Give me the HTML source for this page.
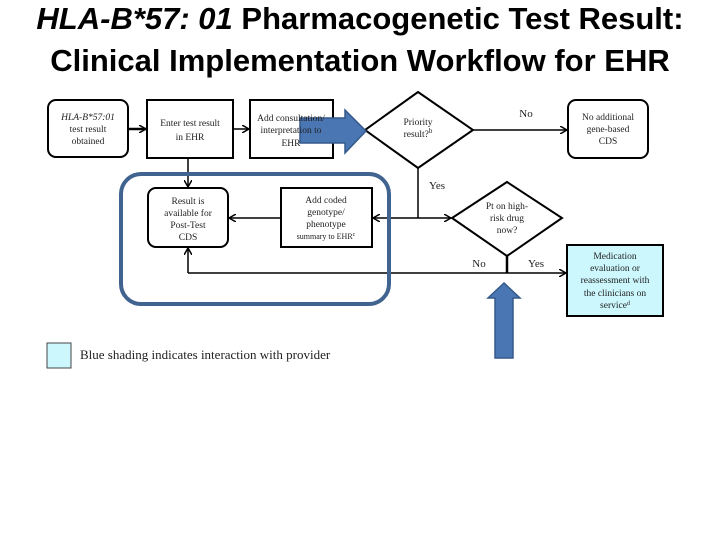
<!DOCTYPE html>
<html><head><meta charset="utf-8"><style>
body{margin:0;width:720px;height:540px;background:#fff;overflow:hidden;position:relative}
.t{position:absolute;left:0;width:720px;text-align:center;font-family:"Liberation Sans",sans-serif;font-weight:bold;font-size:31px;color:#000;white-space:nowrap}
svg{position:absolute;left:0;top:0}
text{font-family:"Liberation Serif",serif;font-size:9.5px;fill:#222}
</style></head><body>
<div class="t" style="top:1px"><i>HLA-B*57: 01</i> Pharmacogenetic Test Result:</div>
<div class="t" style="top:43px">Clinical Implementation Workflow for EHR</div>
<svg width="720" height="540" viewBox="0 0 720 540">
<defs><marker id="a" markerWidth="8" markerHeight="8" refX="7" refY="4" orient="auto" markerUnits="userSpaceOnUse"><path d="M0,0 L7,4 L0,8" fill="none" stroke="#000" stroke-width="1.5"/></marker></defs>
<g stroke="#000" stroke-width="2" fill="#fff">
<rect x="48" y="100" width="80" height="57" rx="8"/>
<rect x="147" y="100" width="86" height="58"/>
<rect x="250" y="100" width="83" height="58"/>
<polygon points="418,92 473,130 418,168 365,130"/>
<rect x="568" y="100" width="80" height="58" rx="8"/>
<rect x="148" y="188" width="80" height="59" rx="8"/>
<rect x="281" y="188" width="91" height="59"/>
<polygon points="507,182 562,218 507,256 452,218"/>
<rect x="567" y="245" width="96" height="71" fill="#ccf7fc"/>
</g>
<g stroke="#000" stroke-width="1.5" fill="none">
<line x1="128" y1="129" x2="146" y2="129" marker-end="url(#a)" stroke-width="2.5"/>
<line x1="233" y1="129" x2="249" y2="129" marker-end="url(#a)"/>
<line x1="188" y1="158" x2="188" y2="187" marker-end="url(#a)"/>
<line x1="473" y1="130" x2="567" y2="130" marker-end="url(#a)"/>
<line x1="418" y1="168" x2="418" y2="218"/>
<line x1="418" y1="218" x2="373" y2="218" marker-end="url(#a)"/>
<line x1="418" y1="218" x2="451" y2="218" marker-end="url(#a)"/>
<line x1="281" y1="218" x2="229" y2="218" marker-end="url(#a)"/>
<line x1="507" y1="256" x2="507" y2="273" stroke-width="2.5"/>
<line x1="188" y1="273" x2="566" y2="273" marker-end="url(#a)"/>
<line x1="188" y1="273" x2="188" y2="248" marker-end="url(#a)"/>
</g>
<rect x="121" y="174" width="268" height="130" rx="20" fill="none" stroke="#40638f" stroke-width="4"/>
<polygon points="300,118 345,118 345,110 366,131 345,153 345,143 300,143" fill="#4a77b4" stroke="#34598a" stroke-width="1.5"/>
<polygon points="495,358 495,298 488,298 504,283 520,298 513,298 513,358" fill="#4a77b4" stroke="#34598a" stroke-width="1.5"/>
<rect x="47" y="343" width="24" height="25" fill="#ccf7fc" stroke="#444" stroke-width="1"/>
<text x="80" y="359" style="font-size:13px">Blue shading indicates interaction with provider</text>
<g text-anchor="middle">
<text x="88" y="120" font-style="italic">HLA-B*57:01</text><text x="88" y="132">test result</text><text x="88" y="144">obtained</text>
<text x="190" y="126">Enter test result</text><text x="190" y="140">in EHR</text>
<text x="291" y="121">Add consultation/</text><text x="291" y="133">interpretation to</text><text x="291" y="146">EHR</text>
<text x="418" y="125">Priority</text><text x="418" y="137">result?<tspan dy="-4" font-size="7">b</tspan></text>
<text x="608" y="120">No additional</text><text x="608" y="132">gene-based</text><text x="608" y="144">CDS</text>
<text x="188" y="204">Result is</text><text x="188" y="216">available for</text><text x="188" y="228">Post-Test</text><text x="188" y="240">CDS</text>
<text x="326" y="203">Add coded</text><text x="326" y="215">genotype/</text><text x="326" y="227">phenotype</text><text x="326" y="239" style="font-size:8px">summary to EHR<tspan dy="-3" font-size="6">c</tspan></text>
<text x="507" y="209">Pt on high-</text><text x="507" y="221">risk drug</text><text x="507" y="233">now?</text>
<text x="615" y="259">Medication</text><text x="615" y="271">evaluation or</text><text x="615" y="283">reassessment with</text><text x="615" y="296">the clinicians on</text><text x="615" y="308">service<tspan dy="-3" font-size="6">d</tspan></text>
<text x="526" y="117" style="font-size:11px">No</text>
<text x="437" y="189" style="font-size:11px">Yes</text>
<text x="479" y="267" style="font-size:11px">No</text>
<text x="536" y="267" style="font-size:11px">Yes</text>
</g>
</svg>
</body></html>
